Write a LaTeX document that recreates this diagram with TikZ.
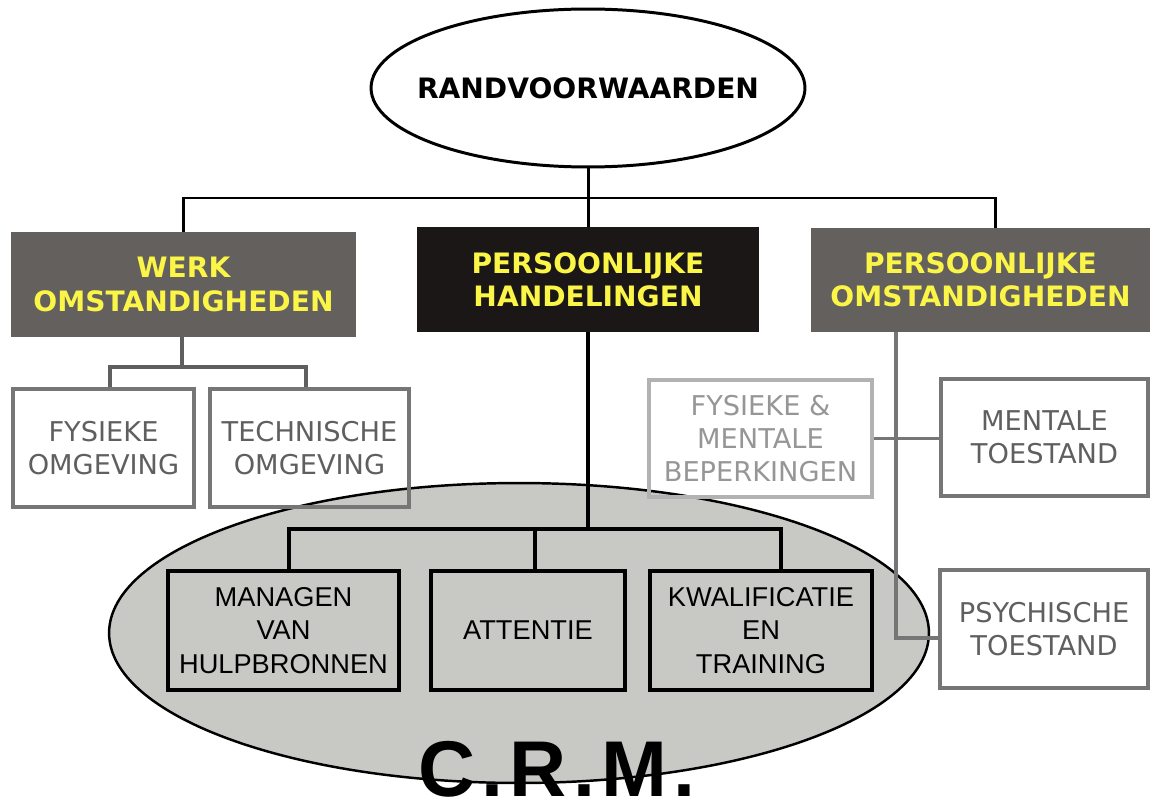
\documentclass[tikz,border=0pt]{standalone}
\usepackage{fontspec}
\setmainfont{DejaVu Sans}
\newfontfamily\crmfont{Liberation Sans}
\newfontfamily\crmbigfont[LetterSpace=8]{Liberation Sans}
\usepackage{tikz}
\definecolor{headGray}{RGB}{99,96,94}
\definecolor{headBlack}{RGB}{27,23,22}
\definecolor{headYellow}{RGB}{250,245,70}
\definecolor{boxGray}{RGB}{118,118,118}
\definecolor{textGray}{RGB}{95,95,95}
\definecolor{lightGray}{RGB}{178,178,178}
\definecolor{lightText}{RGB}{150,150,150}
\definecolor{crmGray}{RGB}{200,200,197}
\usetikzlibrary{shapes, backgrounds}
\tikzstyle{topEllipse} = [ellipse, draw, line width=1.7pt, minimum width=8.68cm, minimum height=3.16cm, inner sep=0pt, font=\bfseries\fontsize{16}{19}\selectfont]
\tikzstyle{head} = [rectangle, text=headYellow, align=center, inner sep=0pt, font=\bfseries\fontsize{16}{19}\selectfont]
\tikzstyle{box} = [rectangle, draw=boxGray, line width=2.2pt, text=textGray, align=center, inner sep=0pt, font=\fontsize{15.5}{19}\selectfont]
\tikzstyle{crmBox} = [rectangle, draw=black, line width=2.4pt, text=black, align=center, inner sep=0pt, minimum height=2.38cm, font=\crmfont\fontsize{15.5}{19}\selectfont]
\tikzstyle{crmArea} = [ellipse, draw=black, line width=1.4pt, fill=crmGray, minimum width=16.4cm, minimum height=6cm, inner sep=0pt]
\tikzstyle{link} = [line width=1.7pt]
\tikzstyle{greyLink} = [draw=boxGray, line width=2.2pt]

\begin{document}
\begin{tikzpicture}[x=0.02cm, y=-0.02cm]
        \useasboundingbox (0,0) rectangle (1151,807);

        % We start by placing the top of the tree
        \node [topEllipse] (randVoorw) at (588,88) {\makebox[0pt]{RANDVOORWAARDEN}};
        \node [head, fill=headGray, minimum width=6.9cm, minimum height=2.1cm] (werkOmst) at (183.5,284.5) {WERK\\OMSTANDIGHEDEN};
        \node [head, fill=headBlack, minimum width=6.86cm, minimum height=2.1cm] (persHand) at (588,279.5) {PERSOONLIJKE\\HANDELINGEN};
        \node [head, fill=headGray, minimum width=6.78cm, minimum height=2.08cm] (persOmst) at (980.5,280) {PERSOONLIJKE\\OMSTANDIGHEDEN};

        % Boxes under the two kinds of circumstances
        \node [box, minimum width=3.62cm, minimum height=2.36cm] (fysOmg) at (103.5,448) {FYSIEKE\\OMGEVING};
        \node [box, minimum width=3.98cm, minimum height=2.36cm] (techOmg) at (309.5,448) {TECHNISCHE\\OMGEVING};
        \node [box, draw=lightGray, text=lightText, minimum width=4.46cm, minimum height=2.34cm] (beperk) at (760.5,438.5) {FYSIEKE \&\\MENTALE\\BEPERKINGEN};
        \node [box, minimum width=4.14cm, minimum height=2.34cm] (mentToest) at (1044.5,437.5) {MENTALE\\TOESTAND};
        \node [box, minimum width=4.16cm, minimum height=2.36cm] (psychToest) at (1044,629) {PSYCHISCHE\\TOESTAND};

        \begin{scope}[on background layer]
            \node [crmArea] (crmEllipse) at (519,633) {};
        \end{scope}

        \node [crmBox, minimum width=4.62cm] (managen) at (283.5,630.5) {MANAGEN\\VAN\\HULPBRONNEN};
        \node [crmBox, minimum width=3.88cm] (attentie) at (528,630.5) {ATTENTIE};
        \node [crmBox, minimum width=4.44cm] (kwalif) at (761,630.5) {KWALIFICATIE\\EN\\TRAINING};

        % Once the nodes are placed, connecting them is easy.
        \coordinate (topBar) at (588,198);
        \coordinate (werkBar) at (182,367);
        \coordinate (crmBar) at (588,529);
        \coordinate (omstKnee) at (896,638);

        \draw [link] (randVoorw) -- (persHand);
        \draw [link] (werkOmst.north) |- (topBar) -| ([xshift=0.29cm]persOmst.north);
        \draw [greyLink, draw=textGray] (werkOmst.south -| werkBar) -- (werkBar);
        \draw [greyLink, draw=textGray] ([xshift=0.13cm]fysOmg.north) |- (werkBar) -| ([xshift=-0.07cm]techOmg.north);
        \draw [greyLink] (persOmst.south -| omstKnee) -- (omstKnee) -- (omstKnee -| psychToest.west);
        \draw [greyLink] (beperk.east) -- (beperk.east -| mentToest.west);
        \draw [link, line width=2pt] (persHand) -- (crmBar);
        \draw [link, line width=2pt] ([xshift=0.11cm]managen.north) |- (crmBar) -| ([xshift=0.4cm]kwalif.north);
        \draw [link, line width=2pt] ([xshift=0.14cm]attentie.north) -- ([xshift=0.14cm]attentie.north |- crmBar);

        \node [anchor=base, inner sep=0pt, text depth=0pt, font=\crmbigfont\bfseries\fontsize{45}{45}\selectfont] (crmLabel) at (557,796) {C.R.M.};
\end{tikzpicture}
\end{document}
